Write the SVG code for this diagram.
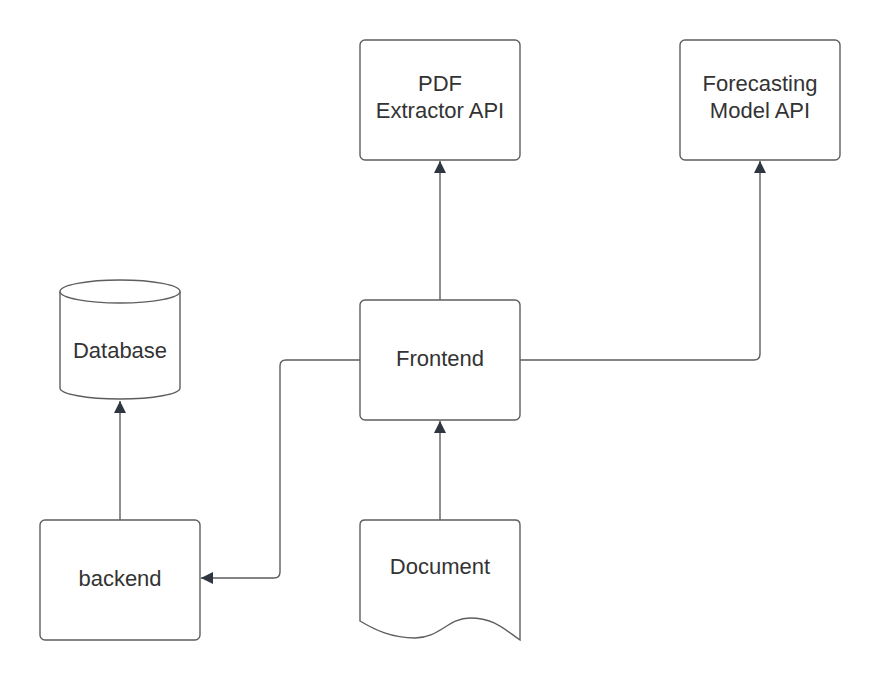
<svg xmlns="http://www.w3.org/2000/svg" width="880" height="680" viewBox="0 0 880 680">
<style>
.n{fill:#fff;stroke:#5e5e5e;stroke-width:1.4}
.t{font-family:"Liberation Sans",Arial,sans-serif;font-size:22px;fill:#333;text-anchor:middle}
.c{fill:none;stroke:#5e5e5e;stroke-width:1.4}
</style>
<defs>
<marker id="ah" viewBox="0 0 10 10" refX="10" refY="5" markerWidth="13" markerHeight="12" markerUnits="userSpaceOnUse" orient="auto">
<path d="M0,0 L10,5 L0,10 Z" fill="#2f3640"/>
</marker>
</defs>
<rect width="880" height="680" fill="#fff"/>
<g id="connectors">
<path class="c" d="M440,300 V161" marker-end="url(#ah)"/>
<path class="c" d="M520,360 H754 Q760,360 760,354 V161" marker-end="url(#ah)"/>
<path class="c" d="M360,360 H286 Q280,360 280,366 V572 Q280,578 274,578 H201" marker-end="url(#ah)"/>
<path class="c" d="M440,520 V421" marker-end="url(#ah)"/>
<path class="c" d="M120,520 V401" marker-end="url(#ah)"/>
</g>
<g id="pdf">
<rect class="n" x="360" y="40" width="160" height="120" rx="5"/>
<text class="t" x="440" y="91">PDF</text>
<text class="t" x="440" y="118">Extractor API</text>
</g>
<g id="forecasting">
<rect class="n" x="680" y="40" width="160" height="120" rx="5"/>
<text class="t" x="760" y="91">Forecasting</text>
<text class="t" x="760" y="118">Model API</text>
</g>
<g id="frontend">
<rect class="n" x="360" y="300" width="160" height="120" rx="5"/>
<text class="t" x="440" y="366">Frontend</text>
</g>
<g id="database">
<path class="n" d="M60,291.5 A60,11.5 0 0 1 180,291.5 V388 A60,11 0 0 1 60,388 Z"/>
<path class="c" d="M60,291.5 A60,11.5 0 0 0 180,291.5"/>
<text class="t" x="120" y="358">Database</text>
</g>
<g id="backend">
<rect class="n" x="40" y="520" width="160" height="120" rx="5"/>
<text class="t" x="120" y="586">backend</text>
</g>
<g id="document">
<path class="n" d="M365,520 H515 Q520,520 520,525 V640 C505,630 495,618 470,618 C448,618 440,638 415,638 C392,638 375,630 360,621 V525 Q360,520 365,520 Z"/>
<text class="t" x="440" y="574">Document</text>
</g>
</svg>
